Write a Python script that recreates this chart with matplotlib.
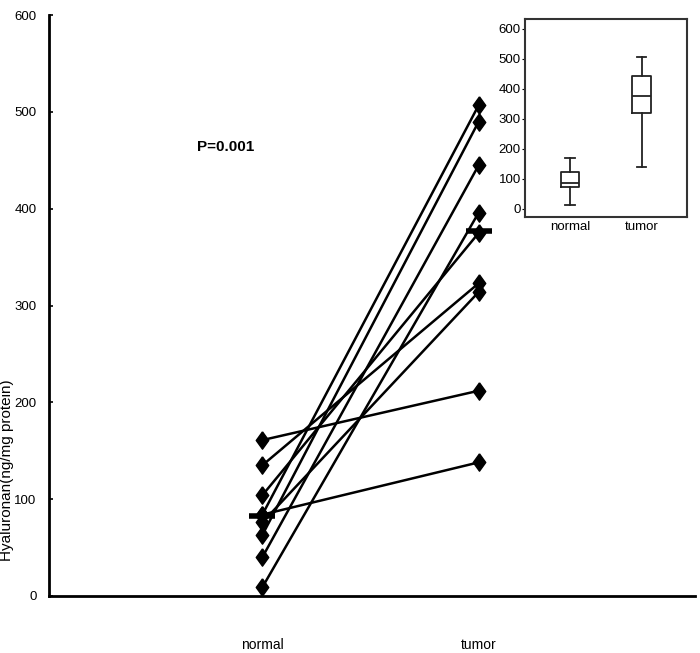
import matplotlib
matplotlib.use('Agg')
import matplotlib.pyplot as plt

plt.rcParams['font.family'] = ['Liberation Sans', 'DejaVu Sans']

# 配对数据 (normal -> tumor)
groups = ['normal', 'tumor']
normal_vals = [161, 135, 104, 84, 84, 76, 63, 40, 9]
tumor_vals = [212, 323, 375, 138, 507, 314, 490, 445, 396]
normal_median = 83
tumor_median = 377
p_text = 'P=0.001'

# 小图箱线图统计量
box_labels = ['normal', 'tumor']
box_whislo = [12, 140]
box_q1 = [72, 318]
box_med = [86, 377]
box_q3 = [123, 443]
box_whishi = [170, 507]

y_ticks = [0, 100, 200, 300, 400, 500, 600]

# 菱形标记（竖向拉长）
diamond = [(0, 1), (0.72, 0), (0, -1), (-0.72, 0), (0, 1)]

fig = plt.figure(figsize=(7, 6.53), dpi=100)
ax = fig.add_axes([0.07, 0.0873, 0.923, 0.8897])

# 配对连线
for a, b in zip(normal_vals, tumor_vals):
    ax.plot([1, 2], [a, b], color='black', lw=1.8, zorder=2)
ax.plot([1] * len(normal_vals), normal_vals, linestyle='none', marker=diamond,
        color='black', ms=12.5, zorder=3)
ax.plot([2] * len(tumor_vals), tumor_vals, linestyle='none', marker=diamond,
        color='black', ms=12.5, zorder=3)

# 中位数标记
ax.plot([1, 2], [normal_median, tumor_median], '_', color='black', ms=19, mew=4, zorder=4)

ax.text(0.70, 464, p_text, fontsize=11, fontweight='bold', va='center', ha='left')

ax.set_xlim(0.014, 3.0)
ax.set_ylim(0, 600)
ax.set_xticks([1, 2])
ax.set_xticklabels(groups, fontsize=10)
ax.set_yticks(y_ticks)
ax.set_yticklabels([str(t) for t in y_ticks], fontsize=9.5)
ax.tick_params(axis='x', length=0, pad=30)
ax.tick_params(axis='y', direction='in', length=3, width=1.2, pad=9)
for s in ['top', 'right']:
    ax.spines[s].set_visible(False)
for s in ['left', 'bottom']:
    ax.spines[s].set_linewidth(2)
ax.text(-0.0645, 0.217, 'Hyaluronan(ng/mg protein)', fontsize=11, rotation=90,
        ha='center', va='center', transform=ax.transAxes)

# 右上角小图
ins = fig.add_axes([0.75, 0.668, 0.231, 0.303])
stats = []
for i in range(len(box_labels)):
    stats.append({'whislo': box_whislo[i], 'q1': box_q1[i], 'med': box_med[i],
                  'q3': box_q3[i], 'whishi': box_whishi[i], 'fliers': []})
ins.bxp(stats, positions=[1, 2], widths=0.26, showfliers=False,
        boxprops=dict(color='#222222', lw=1.3),
        medianprops=dict(color='#222222', lw=1.3),
        whiskerprops=dict(color='#222222', lw=1.3),
        capprops=dict(color='#222222', lw=1.3), capwidths=0.13)
ins.set_xlim(0.375, 2.625)
ins.set_ylim(-27, 633)
ins.set_yticks(y_ticks)
ins.set_yticklabels([str(t) for t in y_ticks], fontsize=9.5)
ins.set_xticks([1, 2])
ins.set_xticklabels(box_labels, fontsize=9.5)
ins.tick_params(axis='y', length=2, pad=1)
ins.tick_params(axis='x', length=0, pad=3)
for s in ins.spines.values():
    s.set_linewidth(1.5)
    s.set_color('#333333')

fig.savefig('out.png', dpi=100)
